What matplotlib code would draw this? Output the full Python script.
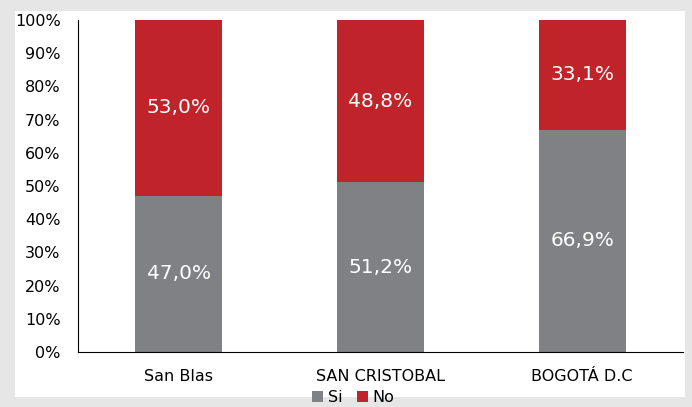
import matplotlib.pyplot as plt
from matplotlib.patches import Rectangle
from matplotlib.ticker import PercentFormatter

categories = ["San Blas", "SAN CRISTOBAL", "BOGOTÁ D.C"]
si_values = [47.0, 51.2, 66.9]
no_values = [53.0, 48.8, 33.1]

GRAY = "#808184"
RED = "#c1232a"

fig = plt.figure(figsize=(6.92, 4.07), dpi=100, facecolor="#e6e6e6")
# white panel in front of the grey frame
fig.patches.append(Rectangle((15 / 692, 10 / 407), 670 / 692, 386 / 407,
                             transform=fig.transFigure, facecolor="white",
                             edgecolor="none", zorder=-10))

ax = fig.add_axes([78 / 692, 55 / 407, 605 / 692, 332 / 407])
ax.set_zorder(5)
ax.set_facecolor("none")

x = range(len(categories))
width = 0.43
ax.bar(x, si_values, width, color=GRAY, label="Si")
ax.bar(x, no_values, width, bottom=si_values, color=RED, label="No")

for i, (si, no) in enumerate(zip(si_values, no_values)):
    ax.text(i, si / 2, f"{si:.1f}%".replace(".", ","), ha="center", va="center",
            color="white", fontsize=14.5)
    ax.text(i, si + no / 2, f"{no:.1f}%".replace(".", ","), ha="center",
            va="center", color="white", fontsize=14.5)

ax.set_xlim(-0.5, 2.5)
ax.set_ylim(0, 100)
ax.set_yticks(range(0, 101, 10))
ax.yaxis.set_major_formatter(PercentFormatter(decimals=0))
ax.set_xticks(list(x))
ax.set_xticklabels(categories)
ax.tick_params(axis="both", length=0, labelsize=11.5, colors="black")
ax.tick_params(axis="y", pad=12.5)
ax.tick_params(axis="x", pad=12)
for side in ("top", "right"):
    ax.spines[side].set_visible(False)
ax.spines["left"].set_color("black")
ax.spines["bottom"].set_color("black")

ax.legend(loc="lower center", bbox_to_anchor=(0.455, -0.178), ncol=2, frameon=False,
          fontsize=11.5, handlelength=0.7, handleheight=0.7, handletextpad=0.3,
          columnspacing=0.9, borderaxespad=0)

fig.savefig("out.png", dpi=100, facecolor=fig.get_facecolor())
